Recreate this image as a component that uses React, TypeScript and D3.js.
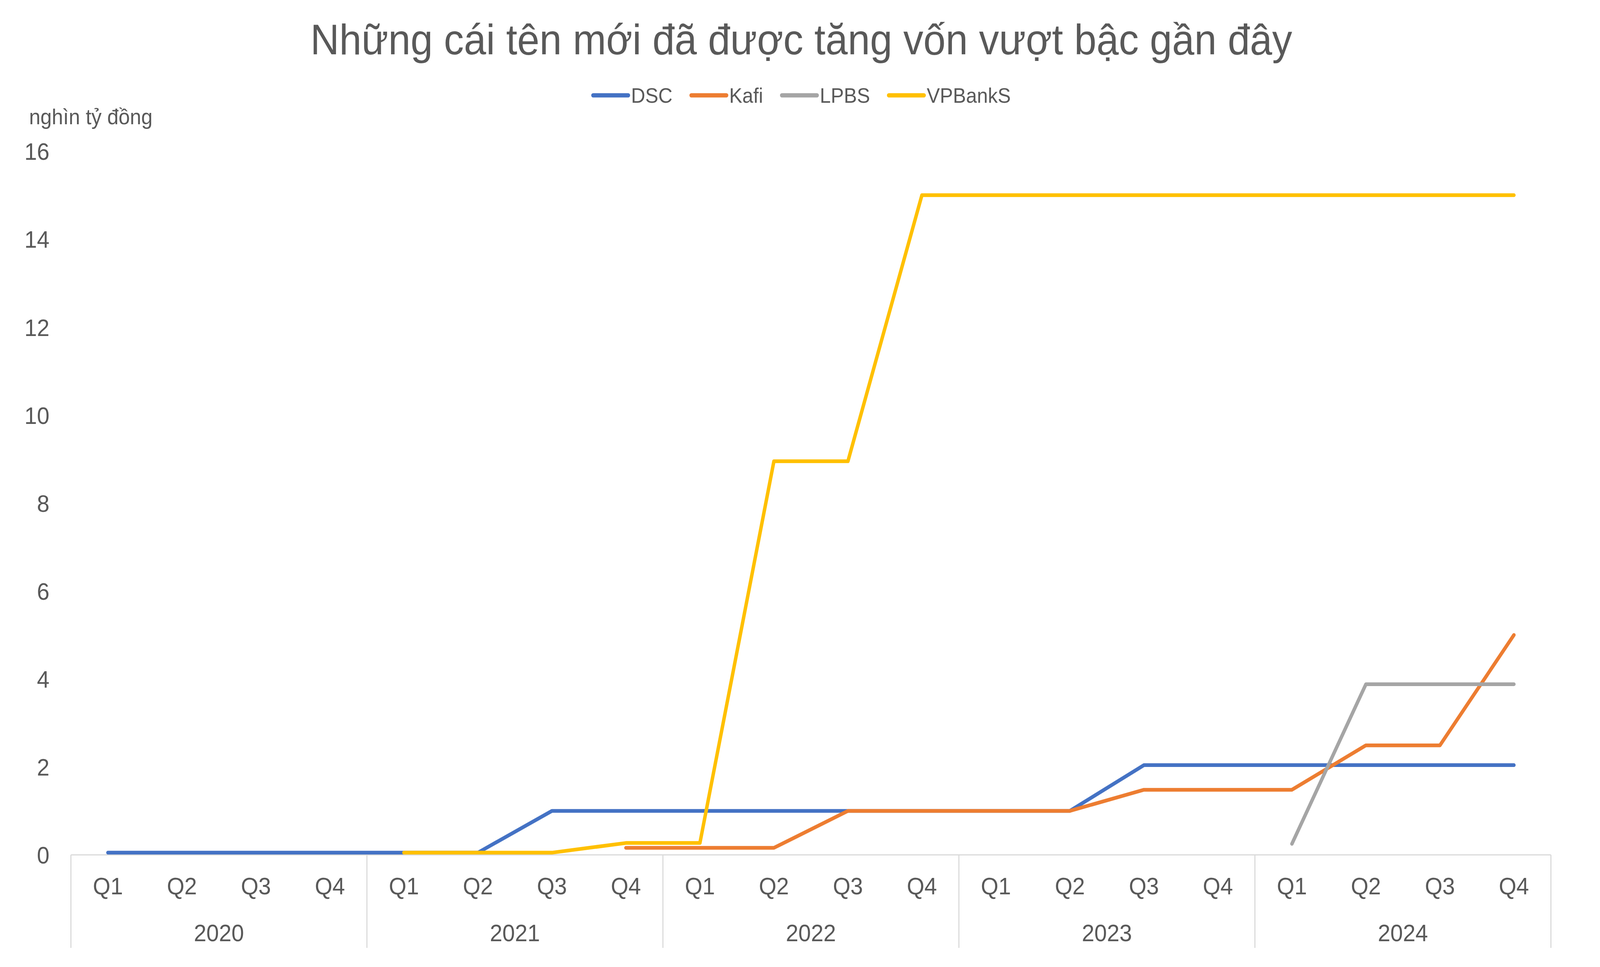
import { useRef, useEffect } from 'react';
import * as d3 from 'd3';

const title = 'Những cái tên mới đã được tăng vốn vượt bậc gần đây';
const unitLabel = 'nghìn tỷ đồng';

const years = ['2020', '2021', '2022', '2023', '2024'];
const quarters = ['Q1', 'Q2', 'Q3', 'Q4'];

const seriesNames = ['DSC', 'Kafi', 'LPBS', 'VPBankS'];
const seriesColors = ['#4472C4', '#ED7D31', '#A5A5A5', '#FFC000'];

// values per quarter, 2020 Q1 -> 2024 Q4 (null = no data)
const dscValues = [
    0.05, 0.05, 0.05, 0.05,
    0.05, 0.05, 1.0, 1.0,
    1.0, 1.0, 1.0, 1.0,
    1.0, 1.0, 2.04, 2.04,
    2.04, 2.04, 2.04, 2.04,
];
const kafiValues = [
    null, null, null, null,
    null, null, null, 0.16,
    0.16, 0.16, 1.0, 1.0,
    1.0, 1.0, 1.48, 1.48,
    1.48, 2.49, 2.49, 5.0,
];
const lpbsValues = [
    null, null, null, null,
    null, null, null, null,
    null, null, null, null,
    null, null, null, null,
    0.25, 3.88, 3.88, 3.88,
];
const vpbanksValues = [
    null, null, null, null,
    0.05, 0.05, 0.05, 0.27,
    0.27, 8.95, 8.95, 15.0,
    15.0, 15.0, 15.0, 15.0,
    15.0, 15.0, 15.0, 15.0,
];

const yTicks = [0, 2, 4, 6, 8, 10, 12, 14, 16];

const W = 4399;
const H = 2475;
const FONT = '"Liberation Sans", Arial, Helvetica, sans-serif';
const TEXT = '#595959';
const AXIS = '#D9D9D9';

export default function App() {
    const chartRef = useRef<SVGSVGElement>(null);

    useEffect(() => {
        if (!chartRef.current) return;
        const svg = d3.select(chartRef.current);
        svg.selectAll('*').remove();

        const plot = { left: 195, right: 4264, top: 387, bottom: 2188 };
        const qRowY = 2267;
        const yearRowY = 2387;
        const axisBottom = 2426;

        const categories = years.flatMap(y => quarters.map(q => `${y}-${q}`));

        const x = d3.scaleBand<string>()
            .domain(categories)
            .range([plot.left, plot.right]);

        const y = d3.scaleLinear()
            .domain([0, 16])
            .range([plot.bottom, plot.top]);

        svg.append('rect')
            .attr('width', W)
            .attr('height', H)
            .attr('fill', '#ffffff');

        // Title
        svg.append('text')
            .attr('x', 2203)
            .attr('y', 139)
            .attr('text-anchor', 'middle')
            .style('font-family', FONT)
            .style('font-size', '110px')
            .style('fill', TEXT)
            .text(title);

        // Unit label
        svg.append('text')
            .attr('x', 80)
            .attr('y', 318)
            .style('font-family', FONT)
            .style('font-size', '56px')
            .style('fill', TEXT)
            .text(unitLabel);

        // Y tick labels (no axis line, no gridlines)
        svg.append('g')
            .selectAll('text')
            .data(yTicks)
            .enter()
            .append('text')
            .attr('x', 136)
            .attr('y', d => y(d))
            .attr('dy', '0.36em')
            .attr('text-anchor', 'end')
            .style('font-family', FONT)
            .style('font-size', '62px')
            .style('fill', TEXT)
            .text(d => d);

        // X axis line
        svg.append('line')
            .attr('x1', plot.left)
            .attr('x2', plot.right)
            .attr('y1', plot.bottom)
            .attr('y2', plot.bottom)
            .style('stroke', AXIS)
            .style('stroke-width', 3);

        // Year dividers
        const dividers = years.map(yr => x(`${yr}-Q1`) as number);
        dividers.push(plot.right);
        svg.append('g')
            .selectAll('line')
            .data(dividers)
            .enter()
            .append('line')
            .attr('x1', d => d)
            .attr('x2', d => d)
            .attr('y1', plot.bottom)
            .attr('y2', axisBottom)
            .style('stroke', AXIS)
            .style('stroke-width', 3);

        // Quarter labels
        svg.append('g')
            .selectAll('text')
            .data(categories)
            .enter()
            .append('text')
            .attr('x', d => (x(d) as number) + x.bandwidth() / 2)
            .attr('y', qRowY)
            .attr('dy', '0.36em')
            .attr('text-anchor', 'middle')
            .style('font-family', FONT)
            .style('font-size', '62px')
            .style('fill', TEXT)
            .text(d => d.split('-')[1]);

        // Year labels
        svg.append('g')
            .selectAll('text')
            .data(years)
            .enter()
            .append('text')
            .attr('x', d => (x(`${d}-Q1`) as number) + x.bandwidth() * 2)
            .attr('y', yearRowY)
            .attr('dy', '0.36em')
            .attr('text-anchor', 'middle')
            .style('font-family', FONT)
            .style('font-size', '62px')
            .style('fill', TEXT)
            .text(d => d);

        // Lines
        const allSeries = [dscValues, kafiValues, lpbsValues, vpbanksValues];
        const line = d3.line<number | null>()
            .defined(d => d !== null)
            .x((_, i) => (x(categories[i]) as number) + x.bandwidth() / 2)
            .y(d => y(d as number));

        allSeries.forEach((values, i) => {
            svg.append('path')
                .datum(values)
                .attr('d', line)
                .style('fill', 'none')
                .style('stroke', seriesColors[i])
                .style('stroke-width', 9.5)
                .style('stroke-linecap', 'round')
                .style('stroke-linejoin', 'round');
        });

        // Legend
        const legend = svg.append('g');
        const swatchW = 96;
        const swatchGap = 8;
        const itemGap = 52;
        let cursor = 0;
        seriesNames.forEach((name, i) => {
            const g = legend.append('g');
            g.append('line')
                .attr('x1', 0)
                .attr('x2', swatchW)
                .attr('y1', 0)
                .attr('y2', 0)
                .style('stroke', seriesColors[i])
                .style('stroke-width', 11)
                .style('stroke-linecap', 'round');
            const t = g.append('text')
                .attr('x', swatchW + swatchGap)
                .attr('y', 0)
                .attr('dy', '0.36em')
                .style('font-family', FONT)
                .style('font-size', '54px')
                .style('fill', TEXT)
                .text(name);
            const len = (t.node() as SVGTextElement).getComputedTextLength();
            g.attr('transform', `translate(${cursor},0)`);
            cursor += swatchW + swatchGap + len + itemGap;
        });
        const totalW = cursor - itemGap;
        legend.attr('transform', `translate(${2205 - totalW / 2},244)`);
    }, []);

    return (
        <div style={{ position: 'fixed', left: 0, top: 0, width: '100vw', height: '100vh', overflow: 'hidden' }}>
            <svg
                ref={chartRef}
                viewBox={`0 0 ${W} ${H}`}
                preserveAspectRatio="none"
                style={{ display: 'block', width: '100%', height: '100%' }}
            />
        </div>
    );
}
